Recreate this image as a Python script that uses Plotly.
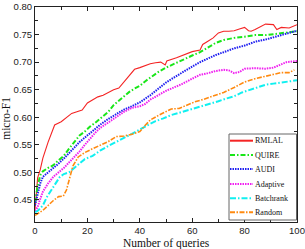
import plotly.graph_objects as go

# ---- data ----
rmlal_q = [0, 1, 2, 3, 5, 7.5, 10, 12, 14, 16, 18, 20, 22, 24, 26, 28, 30, 32, 34, 36, 38, 40, 42, 44, 46, 48,
           49.7, 50.3, 54, 57, 60, 63, 64, 66, 68, 70, 72, 74, 76, 78, 80, 81.5, 82.5, 84, 86, 88, 91, 92.3, 94, 97, 100]
rmlal_v = [0.432, 0.490, 0.505, 0.526, 0.555, 0.586, 0.592, 0.600, 0.607, 0.610, 0.613, 0.626, 0.632, 0.637, 0.640,
           0.645, 0.650, 0.653, 0.665, 0.676, 0.687, 0.690, 0.694, 0.697, 0.699, 0.700,
           0.695, 0.702, 0.708, 0.714, 0.719, 0.722, 0.732, 0.738, 0.744, 0.753, 0.756, 0.756, 0.757, 0.760, 0.763, 0.757,
           0.756, 0.759, 0.764, 0.769, 0.768, 0.759, 0.763, 0.762, 0.768]

quire_q = [0, 1, 2, 3, 5, 7, 9, 11, 13, 15, 17, 19, 21, 23, 25, 28, 30, 32, 34, 36, 38, 40, 42, 44, 47, 50, 53, 56,
           60, 63, 66, 69, 72, 76, 80, 84, 88, 92, 96, 100]
quire_v = [0.445, 0.475, 0.495, 0.502, 0.508, 0.513, 0.522, 0.530, 0.543, 0.555, 0.567, 0.574, 0.583, 0.590, 0.598,
           0.610, 0.622, 0.630, 0.638, 0.646, 0.652, 0.657, 0.665, 0.672, 0.682, 0.690, 0.697, 0.704,
           0.712, 0.718, 0.727, 0.735, 0.740, 0.744, 0.746, 0.749, 0.749, 0.751, 0.753, 0.756]

audi_q = [0, 1, 2, 3, 5, 7, 9, 11, 13, 15, 17, 19, 21, 23, 25, 28, 31, 34, 37, 40, 44, 47, 50, 53, 56, 60, 63, 66,
          69, 72, 76, 80, 84, 88, 92, 96, 100]
audi_v = [0.440, 0.462, 0.480, 0.492, 0.500, 0.507, 0.516, 0.525, 0.536, 0.545, 0.555, 0.563, 0.570, 0.578, 0.587,
          0.597, 0.605, 0.614, 0.620, 0.627, 0.640, 0.652, 0.663, 0.672, 0.681, 0.692, 0.700, 0.707,
          0.713, 0.718, 0.725, 0.730, 0.737, 0.741, 0.746, 0.751, 0.757]

adaptive_q = [0, 1, 2, 3, 5, 7, 9, 11, 13, 15, 17, 19, 21, 23, 25, 28, 31, 34, 37, 40, 42, 44, 47, 50, 53, 56, 60,
              63, 66, 69, 72, 74, 76, 78, 80, 84, 88, 91, 93, 96, 100]
adaptive_v = [0.430, 0.437, 0.452, 0.465, 0.480, 0.492, 0.500, 0.508, 0.518, 0.528, 0.538, 0.550, 0.562, 0.572, 0.581,
              0.591, 0.601, 0.610, 0.617, 0.620, 0.624, 0.632, 0.640, 0.648, 0.654, 0.660, 0.670,
              0.677, 0.680, 0.684, 0.686, 0.685, 0.680, 0.682, 0.688, 0.689, 0.688, 0.690, 0.694, 0.700, 0.702]

batch_q = [0, 1, 2, 3, 4.5, 7, 9.5, 11, 13, 16, 19, 22, 25, 28, 31, 34, 37, 40, 43, 46, 49, 52, 55, 58, 61, 64, 67,
           70, 73, 76, 79, 82, 85, 88, 91, 94, 97, 100]
batch_v = [0.428, 0.430, 0.435, 0.440, 0.455, 0.474, 0.492, 0.497, 0.500, 0.512, 0.524, 0.530, 0.540, 0.548, 0.555,
           0.562, 0.570, 0.578, 0.586, 0.593, 0.598, 0.604, 0.608, 0.612, 0.617, 0.620, 0.624,
           0.629, 0.634, 0.638, 0.645, 0.650, 0.655, 0.659, 0.661, 0.663, 0.665, 0.667]

random_q = [0, 1, 3, 5, 7, 9, 10.8, 12, 13, 14.5, 16.5, 19, 22, 25, 28, 31, 34, 37, 40, 42, 44, 47, 50, 52, 55, 58,
            61, 64, 68, 72, 76, 80, 84, 88, 92, 94, 97, 99]
random_v = [0.422, 0.425, 0.431, 0.440, 0.449, 0.456, 0.457, 0.468, 0.485, 0.512, 0.528, 0.536, 0.543, 0.549, 0.556,
            0.565, 0.566, 0.569, 0.574, 0.585, 0.595, 0.603, 0.610, 0.615, 0.616, 0.622,
            0.628, 0.632, 0.638, 0.645, 0.654, 0.664, 0.670, 0.674, 0.678, 0.681, 0.681, 0.686]

x_ticks = [0, 20, 40, 60, 80, 100]
y_ticks = [0.45, 0.50, 0.55, 0.60, 0.65, 0.70, 0.75, 0.80]

series = [
    ("RMLAL", rmlal_q, rmlal_v, "#f42424", "solid", 1.1),
    ("QUIRE", quire_q, quire_v, "#19e619", "5px,2px,1.5px,2px", 2),
    ("AUDI", audi_q, audi_v, "#2020f0", "1.5px,1px", 2),
    ("Adaptive", adaptive_q, adaptive_v, "#f020f0", "1.5px,1px", 2),
    ("Batchrank", batch_q, batch_v, "#10f0f0", "6px,2px,1.5px,2px", 2),
    ("Random", random_q, random_v, "#ff8a10", "5px,1.5px,1.5px,1.5px", 1.6),
]

# ---- layout geometry (pixels) ----
W, H = 305, 249
ML, MR, MT, MB = 35, 8, 7, 27
PW, PH = W - ML - MR, H - MT - MB


def px_x(px):
    return (px - ML) / PW


def px_y(py):
    return (H - MB - py) / PH


fig = go.Figure()
for name, q, v, color, dash, w in series:
    fig.add_trace(go.Scatter(x=q, y=v, mode="lines", name=name, showlegend=False,
                             line=dict(color=color, dash=dash, width=w)))

axis_common = dict(
    showline=True, linecolor="#222", linewidth=1, mirror="allticks",
    ticks="inside", ticklen=4, tickcolor="#222", showgrid=False, zeroline=False,
    automargin=False,
    tickfont=dict(family="Liberation Sans", size=9.5, color="#222"),
)

fig.update_xaxes(range=[0, 100], tickvals=x_ticks,
                 minor=dict(ticks="inside", dtick=10, ticklen=3, tickcolor="#222"),
                 **axis_common)
fig.update_yaxes(range=[0.41, 0.80], tickvals=y_ticks, tickformat=".2f",
                 minor=dict(ticks="inside", dtick=0.025, ticklen=3, tickcolor="#222"),
                 **axis_common)

shapes = []
annotations = []
# custom legend box
shapes.append(dict(type="rect", xref="paper", yref="paper",
                   x0=px_x(229), x1=px_x(296.5), y0=px_y(220), y1=px_y(134),
                   fillcolor="white", line=dict(color="#666", width=1), layer="above"))
leg_y = [140.7, 155, 169, 184, 198.3, 212.3]
for (name, q, v, color, dash, w), ly in zip(series, leg_y):
    shapes.append(dict(type="line", xref="paper", yref="paper",
                       x0=px_x(230), x1=px_x(253), y0=px_y(ly), y1=px_y(ly),
                       line=dict(color=color, dash=dash, width=2), layer="above"))
    annotations.append(dict(xref="paper", yref="paper", x=px_x(253), y=px_y(ly),
                            xanchor="left", yanchor="middle", showarrow=False, text=name,
                            font=dict(family="Liberation Serif", size=8, color="#111")))

# axis titles
annotations.append(dict(xref="paper", yref="paper", x=0.5, y=0, yanchor="top", xanchor="center",
                        yshift=-13, showarrow=False, text="Number of queries",
                        font=dict(family="Liberation Serif", size=11.5, color="#111")))
annotations.append(dict(xref="paper", yref="paper", x=0, y=0.48, xanchor="center", yanchor="middle",
                        xshift=-29, textangle=-90, showarrow=False, text="micro-F1",
                        font=dict(family="Liberation Serif", size=11.5, color="#111")))

fig.update_layout(
    width=W, height=H,
    margin=dict(l=ML, r=MR, t=MT, b=MB),
    paper_bgcolor="white", plot_bgcolor="white",
    showlegend=False,
    shapes=shapes, annotations=annotations,
)

fig.write_html("out.html", config={"displayModeBar": False},
               post_script="document.body.style.margin='0px';")
